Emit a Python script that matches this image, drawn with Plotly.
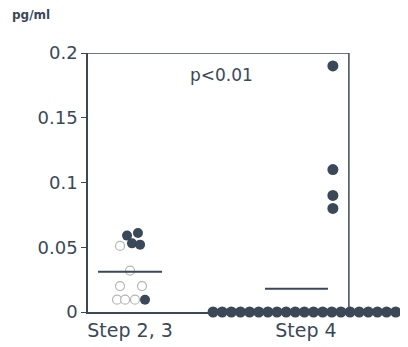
import plotly.graph_objects as go

# ---- data ----
groups = ["Step 2, 3", "Step 4"]
step23_filled = [0.059, 0.061, 0.053, 0.052, 0.0095]
step23_open = [0.051, 0.032, 0.020, 0.020, 0.0095, 0.0095, 0.0095]
step4_values = [0.19, 0.11, 0.09, 0.08] + [0.0] * 22
mean_step23 = 0.031
mean_step4 = 0.018
y_ticks = [0, 0.05, 0.1, 0.15, 0.2]
y_tick_labels = ["0", "0.05", "0.1", "0.15", "0.2"]
p_text = "p<0.01"
unit_text = "pg/ml"

# ---- layout helpers (positions only) ----
dark = "#3b4858"
FONT = "DejaVu Sans, Arial, sans-serif"
xpos = {"Step 2, 3": 1.0, "Step 4": 2.0}
off_filled = [-0.017, 0.045, 0.011, 0.057, 0.085]
off_open = [-0.057, 0.0, -0.057, 0.068, -0.074, -0.028, 0.028]
nz = 4
nzero = len(step4_values) - nz
off_step4 = [0.153] * nz + [-0.528 + i * (1.09 / (nzero - 1)) for i in range(nzero)]
XMIN, XMAX, XBOX = 0.761, 2.58, 2.244

fig = go.Figure()
fig.add_trace(go.Scatter(
    x=[xpos[groups[0]] + o for o in off_open], y=step23_open, mode="markers",
    marker=dict(size=9, color="white", line=dict(color="#b5b5b5", width=1.2)),
    cliponaxis=False, showlegend=False))
fig.add_trace(go.Scatter(
    x=[xpos[groups[0]] + o for o in off_filled], y=step23_filled, mode="markers",
    marker=dict(size=10, color=dark, line=dict(width=0)),
    cliponaxis=False, showlegend=False))
fig.add_trace(go.Scatter(
    x=[xpos[groups[1]] + o for o in off_step4], y=step4_values, mode="markers",
    marker=dict(size=11, color=dark, line=dict(width=0)),
    cliponaxis=False, showlegend=False))
# mean lines
fig.add_trace(go.Scatter(x=[xpos[groups[0]] - 0.182, xpos[groups[0]] + 0.182],
                         y=[mean_step23] * 2, mode="lines",
                         line=dict(color=dark, width=2), showlegend=False))
fig.add_trace(go.Scatter(x=[xpos[groups[1]] - 0.233, xpos[groups[1]] + 0.125],
                         y=[mean_step4] * 2, mode="lines",
                         line=dict(color=dark, width=2), showlegend=False))

# box top and right lines
fig.add_shape(type="line", x0=XMIN, x1=XBOX, y0=0.2, y1=0.2,
              line=dict(color=dark, width=1.5), layer="below")
fig.add_shape(type="line", x0=XBOX, x1=XBOX, y0=0, y1=0.2,
              line=dict(color=dark, width=1.5), layer="below")

fig.add_annotation(x=1.517, y=0.183, text=p_text, showarrow=False,
                   font=dict(size=17, color=dark, family=FONT))
fig.add_annotation(xref="paper", yref="paper", x=-0.244, y=1.0, yshift=38,
                   xanchor="left", yanchor="middle", text="<b>" + unit_text + "</b>",
                   showarrow=False, font=dict(size=12, color=dark, family=FONT))

fig.update_layout(
    width=400, height=339,
    margin=dict(l=80, r=0, t=45, b=35),
    paper_bgcolor="white", plot_bgcolor="white",
    font=dict(family=FONT, color=dark),
    xaxis=dict(range=[XMIN, XMAX], tickvals=[xpos[g] for g in groups], ticktext=groups,
               showline=True, linecolor=dark, linewidth=1.5, ticks="",
               showgrid=False, zeroline=False, tickfont=dict(size=19, color=dark)),
    yaxis=dict(range=[0, 0.2], tickvals=y_ticks, ticktext=y_tick_labels,
               showline=True, linecolor=dark, linewidth=1.5, ticks="outside",
               ticklen=5, tickcolor=dark, showgrid=False, zeroline=False,
               tickfont=dict(size=18, color=dark)),
)
fig.write_html("out.html")
